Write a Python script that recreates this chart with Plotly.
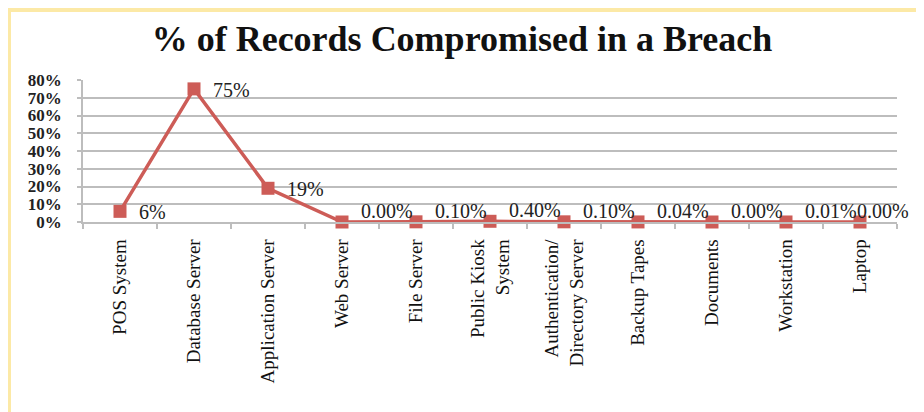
import plotly.graph_objects as go

categories = ["POS System", "Database Server", "Application Server", "Web Server",
              "File Server", "Public Kiosk<br>System", "Authentication/<br>Directory Server",
              "Backup Tapes", "Documents", "Workstation", "Laptop"]
values = [6, 75, 19, 0.00, 0.10, 0.40, 0.10, 0.04, 0.00, 0.01, 0.00]
labels = ["6%", "75%", "19%", "0.00%", "0.10%", "0.40%", "0.10%", "0.04%", "0.00%", "0.01%", "0.00%"]
y_ticks = [0, 10, 20, 30, 40, 50, 60, 70, 80]
y_ticktext = [f"<b>{v}%</b>" for v in y_ticks]

# page body has an 8px margin, so the figure is sized to fit the 924x412 window
W, H = 916, 404
L, R, T, B = 75, 27, 72, 190
RED = "#CD5C57"
GRID = "#BDBDBD"
FONT = "Liberation Serif"

fig = go.Figure()
fig.add_trace(go.Scatter(
    x=categories, y=values, mode="lines+markers",
    line=dict(color=RED, width=3.5),
    marker=dict(symbol="square", size=13, color=RED),
    hoverinfo="skip", showlegend=False, cliponaxis=False,
))

n = len(categories)
for i, (c, v, t) in enumerate(zip(categories, values, labels)):
    # last label is pulled back inside the chart area, as in the original
    xs = -5 if i == n - 1 else 17
    fig.add_annotation(x=c, y=v, text=t, showarrow=False, xanchor="left",
                       xshift=xs, yshift=(11 if v < 1 else -1),
                       font=dict(family=FONT, size=20, color="#222"))

pw = W - L - R
ph = H - T - B
# yellow frame strips (top and left)
fig.add_shape(type="rect", xref="paper", yref="paper", layer="above",
              x0=-L / pw, x1=(W - L) / pw, y0=(H - B - 4) / ph, y1=(H - B) / ph,
              fillcolor="#FCE9A6", line=dict(width=0))
fig.add_shape(type="rect", xref="paper", yref="paper", layer="above",
              x0=-L / pw, x1=(3 - L) / pw, y0=-B / ph, y1=(H - B) / ph,
              fillcolor="#FCE9A6", line=dict(width=0))

fig.update_layout(
    width=W, height=H,
    margin=dict(l=L, r=R, t=T, b=B),
    paper_bgcolor="white", plot_bgcolor="white",
    title=dict(text="<b>% of Records Compromised in a Breach</b>",
               x=454 / W, xanchor="center", y=1 - 30 / H, yanchor="middle",
               font=dict(family=FONT, size=36, color="#111")),
    font=dict(family=FONT, color="#111"),
)
fig.update_xaxes(
    type="category", tickangle=-90, tickson="boundaries",
    showgrid=False, showline=True, linecolor=GRID, linewidth=1.5,
    ticks="outside", ticklen=5, tickcolor=GRID, tickwidth=1.5,
    ticklabelstandoff=8,
    tickfont=dict(family=FONT, size=19, color="#111"),
    range=[-0.5, n - 0.5], fixedrange=True, automargin=False,
)
fig.update_yaxes(
    range=[0, 80], tickvals=y_ticks, ticktext=y_ticktext,
    showgrid=True, gridcolor=GRID, gridwidth=1.5,
    showline=True, linecolor=GRID, linewidth=1.5,
    ticks="outside", ticklen=4, tickcolor=GRID, tickwidth=1.5,
    ticklabelstandoff=12, zeroline=False,
    tickfont=dict(family=FONT, size=17, color="#222"),
    fixedrange=True, automargin=False,
)

fig.write_html("out.html")
